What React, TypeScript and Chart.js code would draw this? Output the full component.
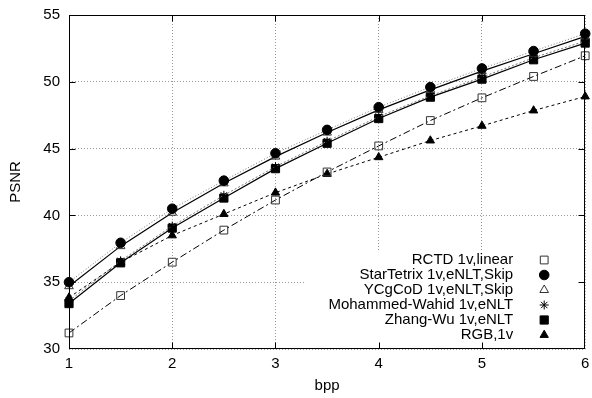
import React, { useEffect, useRef } from 'react';
import { Chart, registerables } from 'chart.js';

Chart.register(...registerables);

const bpp = [1, 1.5, 2, 2.5, 3, 3.5, 4, 4.5, 5, 5.5, 6];
const rctd = [31.2, 34.0, 36.5, 38.9, 41.15, 43.25, 45.2, 47.1, 48.8, 50.4, 51.95];
const starTetrix = [35.0, 37.95, 40.5, 42.6, 44.65, 46.4, 48.1, 49.6, 51.0, 52.3, 53.6];
const ycgcod = [34.7, 37.7, 40.2, 42.4, 44.4, 46.2, 47.9, 49.4, 50.8, 52.1, 53.4];
const mohammedWahid = [33.6, 36.6, 39.2, 41.5, 43.65, 45.55, 47.4, 48.95, 50.35, 51.8, 53.05];
const zhangWu = [33.4, 36.45, 39.05, 41.3, 43.5, 45.4, 47.25, 48.85, 50.2, 51.65, 52.9];
const rgb = [33.85, 36.5, 38.5, 40.1, 41.7, 43.1, 44.35, 45.6, 46.7, 47.85, 48.9];

const seriesLabels = [
  'RCTD 1v,linear',
  'StarTetrix 1v,eNLT,Skip',
  'YCgCoD 1v,eNLT,Skip',
  'Mohammed-Wahid 1v,eNLT',
  'Zhang-Wu 1v,eNLT',
  'RGB,1v',
];

const xTitle = 'bpp';
const yTitle = 'PSNR';

const FONT = '"Liberation Sans", Arial, Helvetica, sans-serif';

function pts(ys: number[]) {
  return bpp.map((x, i) => ({ x, y: ys[i] }));
}

function drawMarker(
  ctx: CanvasRenderingContext2D,
  style: string,
  x: number,
  y: number,
  r: number,
  fill: string,
  stroke: string,
  lw: number
) {
  ctx.save();
  ctx.setLineDash([]);
  ctx.beginPath();
  if (style === 'circle') {
    ctx.arc(x, y, r, 0, Math.PI * 2);
  } else if (style === 'rect') {
    const s = Math.SQRT1_2 * r;
    ctx.rect(x - s, y - s, 2 * s, 2 * s);
  } else if (style === 'triangle') {
    let rad = 0;
    ctx.moveTo(x + Math.sin(rad) * r, y - Math.cos(rad) * r);
    rad += (Math.PI * 2) / 3;
    ctx.lineTo(x + Math.sin(rad) * r, y - Math.cos(rad) * r);
    rad += (Math.PI * 2) / 3;
    ctx.lineTo(x + Math.sin(rad) * r, y - Math.cos(rad) * r);
    ctx.closePath();
  } else if (style === 'star') {
    for (let k = 0; k < 4; k++) {
      const a = (k * Math.PI) / 4;
      ctx.moveTo(x - Math.cos(a) * r, y - Math.sin(a) * r);
      ctx.lineTo(x + Math.cos(a) * r, y + Math.sin(a) * r);
    }
  }
  ctx.fillStyle = fill;
  ctx.strokeStyle = stroke;
  ctx.lineWidth = lw;
  if (style !== 'star') ctx.fill();
  ctx.stroke();
  ctx.restore();
}

const gnuplotDecor = {
  id: 'gnuplotDecor',
  beforeDatasetsDraw(chart: any) {
    const { ctx, chartArea: a } = chart;
    ctx.save();
    ctx.fillStyle = '#fff';
    ctx.fillRect(a.right - 281, a.bottom - 98, 281, 98);
    ctx.restore();
  },
  afterDraw(chart: any) {
    const { ctx, chartArea: a, scales } = chart;
    const xs = scales.x;
    const ys = scales.y;
    ctx.save();
    // legend
    ctx.font = `15px ${FONT}`;
    ctx.fillStyle = '#000';
    ctx.textAlign = 'right';
    ctx.textBaseline = 'middle';
    const textRight = a.right - 72;
    const markX = a.right - 41;
    chart.data.datasets.forEach((ds: any, i: number) => {
      const rowY = a.bottom - 89 + i * 15;
      ctx.fillStyle = '#000';
      ctx.fillText(ds.label, textRight, rowY);
      drawMarker(
        ctx,
        ds.pointStyle,
        markX,
        rowY,
        ds.pointRadius,
        ds.pointBackgroundColor,
        ds.pointBorderColor,
        ds.pointBorderWidth
      );
    });
    // frame
    ctx.strokeStyle = '#000';
    ctx.lineWidth = 1;
    ctx.setLineDash([]);
    const L = Math.round(a.left) + 0.5;
    const R = Math.round(a.right) - 0.5;
    const T = Math.round(a.top) + 0.5;
    const B = Math.round(a.bottom) - 0.5;
    ctx.strokeRect(L, T, R - L, B - T);
    // inward ticks
    const tl = 6;
    ctx.beginPath();
    xs.ticks.forEach((t: any) => {
      const px = Math.round(xs.getPixelForValue(t.value)) + 0.5;
      if (px <= L + 1 || px >= R - 1) return;
      ctx.moveTo(px, B);
      ctx.lineTo(px, B - tl);
      ctx.moveTo(px, T);
      ctx.lineTo(px, T + tl);
    });
    ys.ticks.forEach((t: any) => {
      const py = Math.round(ys.getPixelForValue(t.value)) + 0.5;
      if (py <= T + 1 || py >= B - 1) return;
      ctx.moveTo(L, py);
      ctx.lineTo(L + tl, py);
      ctx.moveTo(R, py);
      ctx.lineTo(R - tl, py);
    });
    ctx.stroke();
    ctx.restore();
  },
};

export default function App() {
  const ref = useRef<HTMLCanvasElement | null>(null);

  useEffect(() => {
    if (!ref.current) return;
    const common = {
      borderWidth: 1,
      tension: 0,
      fill: false,
      pointBorderWidth: 1,
      pointHoverRadius: 5,
      clip: false as any,
    };
    const chart = new Chart(ref.current, {
      type: 'line',
      data: {
        datasets: [
          {
            ...common,
            label: seriesLabels[0],
            data: pts(rctd),
            borderColor: '#000',
            borderDash: [7, 3, 2, 3],
            pointStyle: 'rect',
            pointRadius: 5.5,
            pointBackgroundColor: 'rgba(255,255,255,0)',
            pointBorderColor: '#333',
          },
          {
            ...common,
            label: seriesLabels[1],
            data: pts(starTetrix),
            borderColor: '#777',
            borderDash: [1, 2],
            pointStyle: 'circle',
            pointRadius: 4.8,
            pointBackgroundColor: '#000',
            pointBorderColor: '#000',
          },
          {
            ...common,
            label: seriesLabels[2],
            data: pts(ycgcod),
            borderColor: '#000',
            borderWidth: 1.2,
            pointStyle: 'triangle',
            pointRadius: 5,
            pointBackgroundColor: 'rgba(255,255,255,0)',
            pointBorderColor: '#333',
          },
          {
            ...common,
            label: seriesLabels[3],
            data: pts(mohammedWahid),
            borderColor: '#777',
            borderDash: [2, 2],
            pointStyle: 'star',
            pointRadius: 4.5,
            pointBackgroundColor: '#000',
            pointBorderColor: '#000',
          },
          {
            ...common,
            label: seriesLabels[4],
            data: pts(zhangWu),
            borderColor: '#000',
            borderWidth: 1.2,
            pointStyle: 'rect',
            pointRadius: 5.8,
            pointBackgroundColor: '#000',
            pointBorderColor: '#000',
          },
          {
            ...common,
            label: seriesLabels[5],
            data: pts(rgb),
            borderColor: '#000',
            borderDash: [3, 3],
            pointStyle: 'triangle',
            pointRadius: 4.8,
            pointBackgroundColor: '#000',
            pointBorderColor: '#000',
          },
        ] as any,
      },
      options: {
        responsive: false,
        animation: false,
        devicePixelRatio: 1,
        layout: { padding: { left: 0, right: 1, top: 15, bottom: 0 } },
        plugins: {
          legend: { display: false },
          tooltip: { enabled: false },
        },
        scales: {
          x: {
            type: 'linear',
            min: 1,
            max: 6,
            ticks: {
              stepSize: 1,
              padding: 6,
              maxRotation: 0,
              color: '#000',
              font: { family: FONT, size: 15 },
            },
            grid: {
              color: '#999',
              drawTicks: false,
              lineWidth: 1,
            },
            border: { display: false, dash: [1, 2] },
            title: {
              display: true,
              text: xTitle,
              color: '#000',
              font: { family: FONT, size: 15 },
              padding: { top: 0, bottom: 3 },
            },
            afterFit: (s: any) => {
              s.height = 49;
              s.paddingLeft = 0;
              s.paddingRight = 0;
            },
          },
          y: {
            type: 'linear',
            min: 30,
            max: 55,
            ticks: {
              stepSize: 5,
              padding: 9,
              color: '#000',
              font: { family: FONT, size: 15 },
            },
            grid: {
              color: '#999',
              drawTicks: false,
              lineWidth: 1,
            },
            border: { display: false, dash: [1, 2] },
            title: {
              display: true,
              text: yTitle,
              color: '#000',
              font: { family: FONT, size: 15 },
              padding: { top: 7, bottom: 0 },
            },
            afterFit: (s: any) => {
              s.width = 69;
              s.paddingTop = 0;
              s.paddingBottom = 0;
            },
          },
        },
      } as any,
      plugins: [gnuplotDecor],
    });
    return () => chart.destroy();
  }, []);

  return (
    <div
      style={{
        position: 'fixed',
        left: 0,
        top: 0,
        width: 592,
        height: 398,
        background: '#fff',
      }}
    >
      <canvas
        ref={ref}
        width={592}
        height={398}
        style={{ display: 'block', width: 592, height: 398 }}
      />
    </div>
  );
}
